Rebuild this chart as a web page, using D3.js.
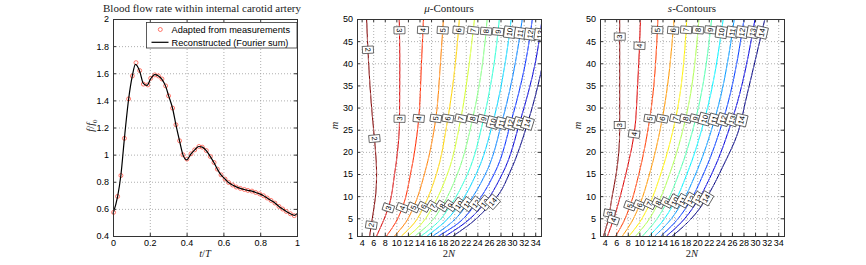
<!DOCTYPE html>
<html>
  <head>
    <title>Blood flow rate and contours</title>
    <meta http-equiv="Content-Type" content="text/html; charset=utf-8">
    <style type="text/css">
      body { margin: 0; background: #fff; }
      svg { display: block; }
      .axis text {
        font-family: "Liberation Sans", Arial, sans-serif;
        font-size: 9px;
        fill: #000;
      }
      .axis { color: #333; }
      .grid line {
        stroke: #9a9a9a;
        stroke-width: 0.8;
        stroke-dasharray: 1,2;
      }
      .frame {
        fill: none;
        stroke: #333;
        stroke-width: 1;
        shape-rendering: crispEdges;
      }
      .serif { font-family: "Liberation Serif", "Times New Roman", serif; fill: #222; }
      .legend text { font-family: "Liberation Sans", Arial, sans-serif; font-size: 9.2px; }
      .clab text { font-family: "Liberation Sans", Arial, sans-serif; font-size: 7.5px; }
    </style>
  </head>

  <body>
    <div id="chart"></div>

    <script src="https://d3js.org/d3.v7.min.js"></script>
    <script>
    // ---- panel 1: flow rate over one period ----
    var tMeas = [0.003, 0.025, 0.043, 0.062, 0.085, 0.105, 0.125, 0.145, 0.165, 0.189,
                 0.205, 0.227, 0.247, 0.266, 0.286, 0.302, 0.324, 0.342, 0.362, 0.38,
                 0.402, 0.424, 0.444, 0.467, 0.485, 0.507, 0.529, 0.549, 0.567, 0.587,
                 0.609, 0.628, 0.65, 0.67, 0.692, 0.714, 0.733, 0.755, 0.775, 0.797,
                 0.818, 0.838, 0.859, 0.88, 0.902, 0.922, 0.942, 0.964, 0.985];
    var fMeas = [0.574, 0.692, 0.846, 1.12, 1.411, 1.58, 1.678, 1.62, 1.52, 1.514,
                 1.563, 1.588, 1.58, 1.558, 1.507, 1.433, 1.343, 1.22, 1.102, 0.999,
                 0.967, 1.006, 1.035, 1.06, 1.055, 1.03, 0.986, 0.942, 0.893, 0.851,
                 0.82, 0.795, 0.776, 0.761, 0.751, 0.743, 0.736, 0.731, 0.721, 0.711,
                 0.697, 0.68, 0.662, 0.643, 0.618, 0.599, 0.581, 0.564, 0.55];
    var tRecon = [0, 0.025, 0.043, 0.062, 0.085, 0.105, 0.122, 0.145, 0.165, 0.185,
                  0.205, 0.227, 0.247, 0.266, 0.286, 0.302, 0.324, 0.342, 0.362, 0.38,
                  0.4, 0.424, 0.444, 0.467, 0.485, 0.507, 0.529, 0.549, 0.567, 0.587,
                  0.609, 0.628, 0.65, 0.67, 0.692, 0.714, 0.733, 0.755, 0.775, 0.797,
                  0.818, 0.838, 0.859, 0.88, 0.902, 0.922, 0.942, 0.964, 0.985, 1];
    var fRecon = [0.565, 0.69, 0.85, 1.12, 1.41, 1.58, 1.665, 1.615, 1.525, 1.51,
                  1.56, 1.59, 1.58, 1.555, 1.505, 1.435, 1.34, 1.22, 1.1, 1.0,
                  0.962, 1.005, 1.035, 1.06, 1.055, 1.03, 0.985, 0.94, 0.893, 0.85,
                  0.82, 0.795, 0.776, 0.762, 0.751, 0.743, 0.737, 0.731, 0.721, 0.711,
                  0.697, 0.68, 0.662, 0.643, 0.618, 0.599, 0.581, 0.564, 0.552, 0.565];
    var tTicks = [0, 0.2, 0.4, 0.6, 0.8, 1];
    var fTicks = [0.4, 0.6, 0.8, 1, 1.2, 1.4, 1.6, 1.8, 2];

    // ---- panels 2 and 3: contour lines, points are [2N, m] ----
    var nTicks = [4, 6, 8, 10, 12, 14, 16, 18, 20, 22, 24, 26, 28, 30, 32, 34];
    var mTicks = [1, 5, 10, 15, 20, 25, 30, 35, 40, 45, 50];

    var mu2  = [[5.38,1],[5.85,5],[6.41,10],[6.59,15],[6.41,20],[6.07,25],[5.72,30],[5.21,40],[4.86,50]];
    var mu3  = [[6.59,1],[7.62,4],[8.66,7.5],[9.69,15],[10.2,20],[10.55,27],[10.6,40],[10.5,50]];
    var mu4  = [[8.3,1],[9.86,4],[11.07,7.5],[12.45,15],[13.83,27],[14.34,40],[14.69,50]];
    var mu5  = [[9.69,1],[11.59,4],[12.97,7.5],[14.86,15],[16.76,27],[17.62,40],[18.14,50]];
    var mu6  = [[10.9,1],[13.14,4],[14.69,7.5],[16.93,15],[18.83,27],[20.2,40],[20.9,50]];
    var mu7  = [[12.1,1],[14.5,4],[16.24,7.5],[18.83,15],[21.07,27],[22.6,40],[23.5,50]];
    var mu8  = [[13.2,1],[15.9,4],[17.8,7.5],[20.55,15],[23.1,27],[24.9,40],[25.7,50]];
    var mu9  = [[14.3,1],[17.1,4],[19.17,7.5],[22.3,15],[25.0,27],[26.9,40],[27.8,50]];
    var mu10 = [[15.3,1],[18.2,4],[20.55,7.5],[23.8,15],[26.76,27],[28.8,40],[29.86,50]];
    var mu11 = [[16.3,1],[19.5,4],[21.9,7.5],[25.4,15],[28.3,27],[30.55,40],[31.76,50]];
    var mu12 = [[17.3,1],[20.8,4],[23.3,7.5],[26.9,15],[29.86,27],[32.3,40],[33.5,50]];
    var mu13 = [[18.5,1],[21.9,4],[24.7,7.5],[28.3,15],[31.4,27],[34.0,40],[35.2,50]];
    var mu14 = [[19.8,1],[23.0,4],[25.8,7.5],[27.8,10.6],[29.5,15],[32.8,27],[35.0,38],[36.0,45]];
    var muLevels = [2, 3, 4, 5, 6, 7, 8, 9, 10, 11, 12, 13, 14];
    var muLines = [mu2, mu3, mu4, mu5, mu6, mu7, mu8, mu9, mu10, mu11, mu12, mu13, mu14];
    // m where each contour carries its inline label
    var muLabelM = [[3.5, 23, 43], [7.3, 27.5, 47.5], [7.4, 27.5, 47.5], [7.5, 27.5, 47.5],
                    [7.6, 27.5, 47.5], [7.7, 27.5, 47.5], [7.8, 27.5, 47.3], [7.9, 27.4, 47.2],
                    [8.0, 26.6, 47], [8.2, 26.5, 46.8], [8.3, 26.4, 46.6], [8.5, 26.4, 46.5],
                    [8.7, 26.4]];

    var s3  = [[3.8,1],[4.5,4],[5.3,10],[6.0,15],[6.45,20],[6.6,25],[6.6,50]];
    var s4  = [[4.5,1],[5.6,5],[7.1,12],[8.2,18],[9.1,24],[9.7,35],[10.2,50]];
    var s5  = [[5.91,1],[7.21,4],[8.44,8],[9.92,15],[11.8,27.5],[13.2,50]];
    var s6  = [[7.07,1],[8.59,4],[10.04,8],[11.76,15],[13.97,27.5],[16.0,50]];
    var s7  = [[8.24,1],[10.0,4],[11.69,8],[13.7,15],[16.27,27.5],[18.2,50]];
    var s8  = [[9.38,1],[11.28,4],[13.09,8],[15.24,15],[18.0,27.5],[20.3,50]];
    var s9  = [[10.55,1],[12.57,4],[14.51,8],[16.81,15],[19.75,27.5],[22.5,50]];
    var s10 = [[11.7,1],[13.81,4],[15.83,8],[18.23,15],[21.3,27.5],[24.5,50]];
    var s11 = [[12.68,1],[14.96,4],[17.14,8],[19.73,15],[23.05,27.5],[26.4,50]];
    var s12 = [[13.72,1],[16.1,4],[18.38,8],[21.08,15],[24.55,27.5],[28.1,50]];
    var s13 = [[14.7,1],[17.2,4],[19.6,8],[22.5,15],[26.1,27.5],[30.0,50]];
    var s14 = [[15.7,1],[18.3,4],[20.3,7],[22.05,10.6],[24.4,16.6],[27.0,24.2],[28.4,31.7],[31.7,50]];
    var sLevels = [3, 4, 5, 6, 7, 8, 9, 10, 11, 12, 13, 14];
    var sLines = [s3, s4, s5, s6, s7, s8, s9, s10, s11, s12, s13, s14];
    var sLabelM = [[6.1, 26, 46], [4.6, 24, 44], [7.8, 27.5, 47.5], [8.0, 27.5, 47.5],
                   [8.2, 27.5, 47.5], [8.4, 27.5, 47.5], [8.6, 27.5, 47.5], [8.8, 27.4, 47],
                   [9.0, 27.3, 47], [9.2, 27.3, 47], [9.4, 27.2, 47], [9.5, 27.2, 47]];

    // ---- layout ----
    var width = 184, height = 217, marginTop = 19;
    var svg = d3.select("#chart").append("svg")
        .attr("width", 866)
        .attr("height", 265);

    // MATLAB style jet colours, t=0 dark blue ... t=1 dark red
    function jet(t) {
      function c(v) { return Math.max(0, Math.min(1, v)) * 255; }
      return d3.rgb(c(1.5 - Math.abs(4 * t - 3)), c(1.5 - Math.abs(4 * t - 2)), c(1.5 - Math.abs(4 * t - 1))).formatHex();
    }

    function grid(g, x, y, xTicks, yTicks) {
      g.append("g").attr("class", "grid")
        .attr("transform", "translate(0," + height + ")")
        .call(d3.axisBottom(x).tickValues(xTicks).tickSize(-height).tickFormat(""))
        .call(function(s) { s.select(".domain").remove(); });
      g.append("g").attr("class", "grid")
        .call(d3.axisLeft(y).tickValues(yTicks).tickSize(-width).tickFormat(""))
        .call(function(s) { s.select(".domain").remove(); });
    }

    function axes(g, x, y, xTicks, yTicks) {
      g.append("g").attr("class", "axis")
        .attr("transform", "translate(0," + height + ")")
        .call(d3.axisBottom(x).tickValues(xTicks).tickSize(-3).tickPadding(4).tickFormat(String))
        .call(function(s) { s.select(".domain").remove(); });
      g.append("g").attr("class", "axis")
        .call(d3.axisLeft(y).tickValues(yTicks).tickSize(-3).tickPadding(4).tickFormat(String))
        .call(function(s) { s.select(".domain").remove(); });
      g.append("g").attr("class", "axis")
        .call(d3.axisTop(x).tickValues(xTicks).tickSize(-3).tickFormat(""))
        .call(function(s) { s.select(".domain").remove(); });
      g.append("g").attr("class", "axis")
        .attr("transform", "translate(" + width + ",0)")
        .call(d3.axisRight(y).tickValues(yTicks).tickSize(-3).tickFormat(""))
        .call(function(s) { s.select(".domain").remove(); });
      g.append("rect").attr("class", "frame")
        .attr("x", 0).attr("y", 0).attr("width", width).attr("height", height);
    }

    // ---- panel 1 ----
    var g1 = svg.append("g").attr("transform", "translate(113," + marginTop + ")");
    var x1 = d3.scaleLinear().domain([0, 1]).range([0, width]);
    var y1 = d3.scaleLinear().domain([0.4, 2]).range([height, 0]);
    grid(g1, x1, y1, tTicks, fTicks);

    g1.selectAll("circle.meas")
      .data(tMeas)
      .enter().append("circle")
        .attr("class", "meas")
        .attr("cx", function(d) { return x1(d); })
        .attr("cy", function(d, i) { return y1(fMeas[i]); })
        .attr("r", 2)
        .attr("fill", "none")
        .attr("stroke", "#ff4030")
        .attr("stroke-width", 0.7);

    var recon = d3.line()
      .x(function(d) { return x1(d); })
      .y(function(d, i) { return y1(fRecon[i]); })
      .curve(d3.curveMonotoneX);
    g1.append("path")
      .attr("d", recon(tRecon))
      .attr("fill", "none")
      .attr("stroke", "#000")
      .attr("stroke-width", 1.2);

    axes(g1, x1, y1, tTicks, fTicks);

    // legend
    var leg = g1.append("g").attr("class", "legend");
    leg.append("rect")
      .attr("x", 33.5).attr("y", 3.5).attr("width", 150.5).attr("height", 25.5)
      .attr("fill", "#fff").attr("stroke", "#333").attr("stroke-width", 0.8);
    leg.append("circle")
      .attr("cx", 47.3).attr("cy", 10.5).attr("r", 2)
      .attr("fill", "none").attr("stroke", "#ff4030").attr("stroke-width", 0.7);
    leg.append("text").attr("x", 58.5).attr("y", 10.5).attr("dy", "0.35em")
      .text("Adapted from measurements");
    leg.append("line")
      .attr("x1", 38.5).attr("x2", 55.5).attr("y1", 23.3).attr("y2", 23.3)
      .attr("stroke", "#000").attr("stroke-width", 1.2);
    leg.append("text").attr("x", 58.5).attr("y", 23.3).attr("dy", "0.35em")
      .text("Reconstructed (Fourier sum)");

    g1.append("text").attr("class", "serif")
      .attr("x", width / 2 - 3).attr("y", -7)
      .attr("text-anchor", "middle")
      .style("font-size", "11px")
      .text("Blood flow rate within internal carotid artery");
    var xl1 = g1.append("text").attr("class", "serif")
      .attr("x", width / 2).attr("y", height + 21)
      .attr("text-anchor", "middle")
      .style("font-size", "10.5px");
    xl1.append("tspan").style("font-style", "italic").text("t");
    xl1.append("tspan").text("/");
    xl1.append("tspan").style("font-style", "italic").text("T");
    var yl1 = g1.append("text").attr("class", "serif")
      .attr("transform", "translate(-19," + (height / 2 - 2) + ") rotate(-90)")
      .attr("text-anchor", "middle")
      .style("font-size", "10.5px");
    yl1.append("tspan").style("font-style", "italic").text("f");
    yl1.append("tspan").text("/");
    yl1.append("tspan").style("font-style", "italic").text("f");
    yl1.append("tspan").attr("dy", 2.5).style("font-size", "7px").text("0");

    // ---- contour panels ----
    function contourPanel(left, id, levels, lines, labelM, symbol) {
      var g = svg.append("g").attr("transform", "translate(" + left + "," + marginTop + ")");
      var x = d3.scaleLinear().domain([3.2, 35]).range([0, width]);
      var y = d3.scaleLinear().domain([1, 50]).range([height, 0]);
      var tOf = d3.scaleLinear().domain(d3.extent(levels)).range([1, 0]);
      grid(g, x, y, nTicks, mTicks);

      g.append("clipPath").attr("id", id)
        .append("rect").attr("width", width).attr("height", height);
      var plot = g.append("g").attr("clip-path", "url(#" + id + ")");

      var line = d3.line()
        .x(function(d) { return x(d[0]); })
        .y(function(d) { return y(d[1]); })
        .curve(d3.curveMonotoneY);

      var paths = [];
      lines.forEach(function(pts, i) {
        var col = jet(tOf(levels[i]));
        var p = plot.append("path")
          .attr("d", line(pts))
          .attr("fill", "none")
          .attr("stroke", col)
          .attr("stroke-width", 1);
        plot.append("path")
          .attr("d", line(pts))
          .attr("fill", "none")
          .attr("stroke", d3.interpolateRgb(col, "#fff")(0.45))
          .attr("stroke-width", 1)
          .attr("stroke-dasharray", "4,3");
        paths.push(p);
      });

      // inline labels, rotated along the contour
      var labs = plot.append("g").attr("class", "clab");
      paths.forEach(function(p, i) {
        var node = p.node(), L = node.getTotalLength();
        labelM[i].forEach(function(m) {
          var ty = y(m), best = null, bestD = Infinity, bestL = 0;
          for (var s = 0; s <= L; s += 0.5) {
            var pt = node.getPointAtLength(s);
            var dd = Math.abs(pt.y - ty);
            if (dd < bestD) { bestD = dd; best = pt; bestL = s; }
          }
          var a = node.getPointAtLength(Math.max(0, bestL - 3));
          var b = node.getPointAtLength(Math.min(L, bestL + 3));
          var ang = Math.atan2(b.y - a.y, b.x - a.x) * 180 / Math.PI;
          if (ang > 90) ang -= 180;
          if (ang < -90) ang += 180;
          var lab = labs.append("g")
            .attr("transform", "translate(" + best.x + "," + best.y + ") rotate(" + ang + ")");
          var t = lab.append("text")
            .attr("text-anchor", "middle")
            .attr("dy", "0.35em")
            .text(levels[i]);
          var bb = t.node().getBBox();
          lab.insert("rect", "text")
            .attr("x", bb.x - 1.5).attr("y", -5.5)
            .attr("width", bb.width + 3).attr("height", 11)
            .attr("fill", "#fff").attr("stroke", "#333").attr("stroke-width", 0.7);
        });
      });

      axes(g, x, y, nTicks, mTicks);

      var ti = g.append("text").attr("class", "serif")
        .attr("x", width / 2).attr("y", -7)
        .attr("text-anchor", "middle")
        .style("font-size", "11px");
      ti.append("tspan").style("font-style", "italic").text(symbol);
      ti.append("tspan").text("-Contours");
      var xl = g.append("text").attr("class", "serif")
        .attr("x", width / 2).attr("y", height + 21)
        .attr("text-anchor", "middle")
        .style("font-size", "10.5px");
      xl.append("tspan").text("2");
      xl.append("tspan").style("font-style", "italic").text("N");
      g.append("text").attr("class", "serif")
        .attr("transform", "translate(-19," + (height / 2 - 2) + ") rotate(-90)")
        .attr("text-anchor", "middle")
        .style("font-size", "10.5px")
        .style("font-style", "italic")
        .text("m");
    }

    contourPanel(357, "clipMu", muLevels, muLines, muLabelM, "\u03bc");
    contourPanel(600, "clipS", sLevels, sLines, sLabelM, "s");
    </script>
  </body>
</html>
